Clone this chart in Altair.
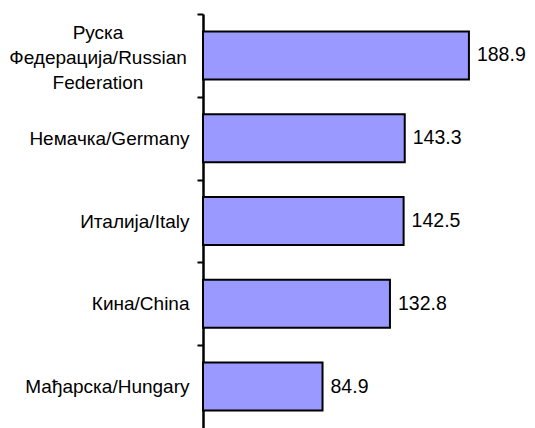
import altair as alt
import pandas as pd

countries = [
    "Руска\nФедерација/Russian\nFederation",
    "Немачка/Germany",
    "Италија/Italy",
    "Кина/China",
    "Мађарска/Hungary",
]
values = [188.9, 143.3, 142.5, 132.8, 84.9]

df = pd.DataFrame({"country": countries, "value": values})

FONT = "Liberation Sans"
FS = 19
VFS = 19.5
H = 414
STEP = H / len(countries)

y_enc = alt.Y(
    "country:N",
    sort=countries,
    scale=alt.Scale(paddingInner=0.42, paddingOuter=0.21),
    axis=alt.Axis(
        title=None,
        labelExpr="indexof(datum.label, '\\n') >= 0 ? '' : datum.label",
        tickOffset=-STEP / 2,
        labelOffset=STEP / 2,
        labelFont=FONT,
        labelFontSize=FS,
        labelColor="#000000",
        labelPadding=8,
        labelLimit=0,
        tickSize=6,
        tickWidth=2,
        tickColor="#000000",
        domainWidth=2.5,
        domainColor="#000000",
    ),
)
x_enc = alt.X("value:Q", scale=alt.Scale(domain=[0, 213.1]), axis=None)

bars = alt.Chart(df).mark_bar(color="#9999FF", stroke="#000000", strokeWidth=2).encode(
    x=x_enc, y=y_enc
)

vals = alt.Chart(df).mark_text(
    align="left", baseline="middle", dx=8, font=FONT, fontSize=VFS, color="#000000"
).encode(x=x_enc, y=alt.Y("country:N", sort=countries), text=alt.Text("value:Q", format=".1f"))

multi = alt.Chart(df).transform_filter(
    "indexof(datum.country, '\\n') >= 0"
).mark_text(
    align="center", baseline="middle", lineBreak="\n", lineHeight=25, dy=-22,
    font=FONT, fontSize=FS, color="#000000"
).encode(x=alt.value(-105), y=alt.Y("country:N", sort=countries), text="country:N")

chart = (
    alt.layer(bars, vals, multi)
    .properties(
        width=300,
        height=H,
        autosize=alt.AutoSizeParams(type="none"),
        padding={"left": 195, "top": 6, "right": 24, "bottom": 0},
    )
    .configure_view(stroke=None)
)

chart.save("out.html", embed_options={"renderer": "svg", "actions": False})
